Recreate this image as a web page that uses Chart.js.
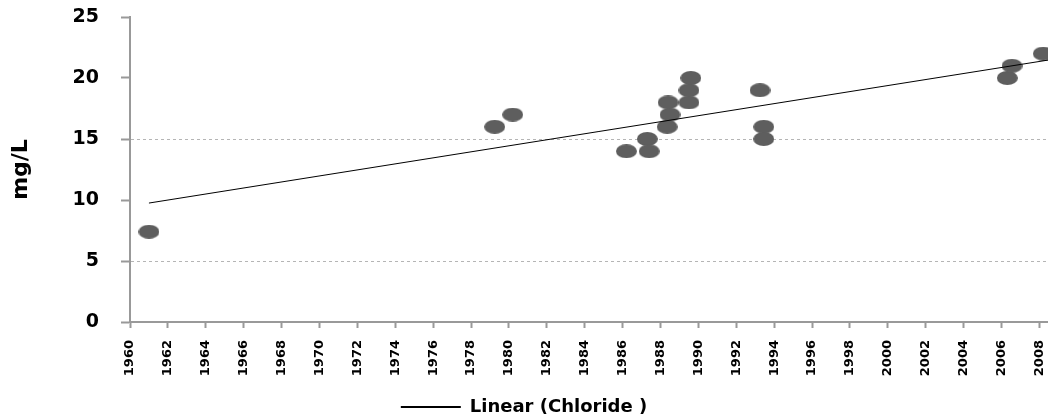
<!DOCTYPE html>
<html>
<head>
<meta charset="utf-8">
<script src="https://cdn.jsdelivr.net/npm/chart.js@4"></script>
<style>
html,body{margin:0;padding:0;background:#fff;}
#wrap{width:1048px;height:417px;position:relative;}
</style>
</head>
<body>
<div id="wrap"><canvas id="c" width="1048" height="417"></canvas></div>
<script>
const sampleYears = [1961.0, 1979.25, 1980.2, 1986.2, 1987.3, 1987.4, 1988.35, 1988.5, 1988.4, 1989.5, 1989.5, 1989.6, 1993.25, 1993.45, 1993.45, 2006.3, 2006.55, 2008.2];
const chloride    = [7.4, 16, 17, 14, 15, 14, 16, 17, 18, 18, 19, 20, 19, 16, 15, 20, 21, 22];
const trendYears  = [1961.0, 2008.5];
const trendValues = [9.75, 21.48];
const xTickYears  = [1960,1962,1964,1966,1968,1970,1972,1974,1976,1978,1980,1982,1984,1986,1988,1990,1992,1994,1996,1998,2000,2002,2004,2006,2008];
const yTickValues = [0,5,10,15,20,25];
const dashedAt    = [5,15];
const legendLabel = 'Linear (Chloride )';
const yTitle      = 'mg/L';

// elliptical marker
const dot = document.createElement('canvas');
dot.width = 21; dot.height = 14;
const dctx = dot.getContext('2d');
dctx.fillStyle = '#5e5e5e';
dctx.beginPath();
dctx.ellipse(10.5, 7, 10.5, 7, 0, 0, Math.PI*2);
dctx.fill();

const FONT = "'DejaVu Sans', sans-serif";

new Chart(document.getElementById('c'), {
  type: 'scatter',
  data: {
    datasets: [
      {
        label: 'Chloride',
        data: sampleYears.map((x,i)=>({x:x, y:chloride[i]})),
        pointStyle: dot,
        pointRadius: 8,
        order: 2
      },
      {
        label: legendLabel,
        type: 'line',
        data: trendYears.map((x,i)=>({x:x, y:trendValues[i]})),
        borderColor: '#000',
        borderWidth: 1,
        pointRadius: 0,
        fill: false,
        order: 1
      }
    ]
  },
  options: {
    responsive: false,
    animation: false,
    events: [],
    layout: { autoPadding: false, padding: { top: 17, right: 0, bottom: -9, left: 0 } },
    plugins: {
      tooltip: { enabled: false },
      legend: {
        position: 'bottom',
        labels: {
          color: '#000',
          font: { family: FONT, size: 18, weight: 'bold' },
          boxWidth: 60,
          boxHeight: 2,
          padding: 1,
          generateLabels: () => [{
            text: legendLabel, fillStyle: '#000', strokeStyle: '#000', lineWidth: 0,
            hidden: false, datasetIndex: 1, fontColor: '#000'
          }]
        }
      }
    },
    scales: {
      x: {
        type: 'linear',
        min: 1960,
        max: 2008.45,
        afterBuildTicks: s => { s.ticks = xTickYears.map(v => ({ value: v })); },
        afterFit: s => { s.height = 75; s.paddingLeft = 0; s.paddingRight = 0; },
        border: { display: true, color: '#999', width: 2 },
        grid: { drawOnChartArea: false, drawTicks: true, tickLength: 6, tickColor: '#999', tickWidth: 2 },
        ticks: {
          autoSkip: false,
          minRotation: 90, maxRotation: 90,
          padding: 12,
          color: '#000',
          font: { family: FONT, size: 13, weight: 'bold' },
          callback: v => String(v)
        }
      },
      y: {
        min: 0,
        max: 25,
        afterBuildTicks: s => { s.ticks = yTickValues.map(v => ({ value: v })); },
        afterFit: s => { s.width = 130; s.paddingTop = 0; s.paddingBottom = 0; },
        border: { display: true, color: '#999', width: 2, dash: [3,3] },
        grid: {
          drawOnChartArea: true,
          color: c => dashedAt.includes(c.tick && c.tick.value) ? '#b5b5b5' : 'rgba(0,0,0,0)',
          lineWidth: 1,
          drawTicks: true, tickLength: 9, tickColor: '#999', tickWidth: 2, tickBorderDash: []
        },
        ticks: {
          padding: 22,
          color: '#000',
          font: { family: FONT, size: 19, weight: 'bold' }
        },
        title: {
          display: true,
          text: yTitle,
          color: '#000',
          font: { family: FONT, size: 22, weight: 'bold' },
          padding: { top: 8, bottom: 0 }
        }
      }
    }
  }
});
</script>
</body>
</html>
